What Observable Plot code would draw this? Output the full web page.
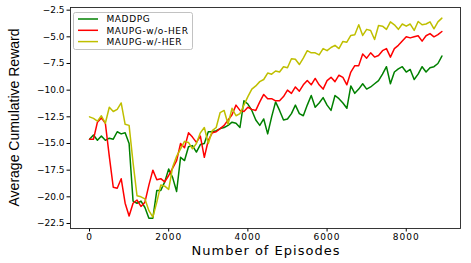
<!DOCTYPE html>
<html>
<head>
<meta charset="utf-8">
<script src="https://cdn.jsdelivr.net/npm/d3@7"></script>
<script src="https://cdn.jsdelivr.net/npm/@observablehq/plot@0.6"></script>
<style>
  html, body { margin: 0; padding: 0; background: white; }
  #chart svg { display: block; }
</style>
</head>
<body>
<div id="chart"></div>
<script>
// Episodes (x values)
const episodes = d3.range(0, 9000, 100);

// Series values
const maddpg = [
  -14.6, -14.2, -14.7, -14.3, -14.7, -14.5, -14.6, -13.9, -14.1, -14.0,
  -15.0, -20.4, -20.6, -20.4, -21.0, -22.0, -22.0, -19.4, -19.4, -18.6,
  -17.4, -18.2, -19.5, -16.3, -16.6, -15.3, -15.2, -15.8, -15.1, -15.0,
  -13.9, -13.9, -13.8, -13.6, -13.5, -13.3, -13.0, -13.1, -13.5, -11.0,
  -11.3, -11.9, -12.8, -13.3, -12.7, -14.1, -12.5, -11.1, -11.9, -12.8,
  -12.7, -12.2, -11.4, -12.2, -12.4, -11.4, -10.5, -11.6, -11.2, -10.7,
  -11.4, -11.9, -10.5, -10.8, -11.2, -11.7, -9.6, -10.3, -9.9, -9.4,
  -9.9, -9.7, -9.4, -9.1, -8.5, -7.8, -9.4, -8.3, -8.0, -7.8,
  -8.3, -8.06, -9.0, -8.5, -7.8, -8.3, -7.9, -7.8, -7.5, -6.8
];
const maupgNoHer = [
  -14.6, -14.6, -13.0, -12.6, -13.1, -16.2, -19.1, -19.2, -18.3, -20.6,
  -21.8, -20.6, -20.3, -20.9, -20.5, -18.9, -17.5, -18.4, -18.3, -18.6,
  -18.0, -17.3, -16.6, -15.0, -15.4, -14.0, -14.4, -14.9, -14.3, -16.3,
  -14.7, -14.0, -13.9, -13.6, -13.3, -12.8, -12.3, -11.4, -11.9, -12.0,
  -11.6, -11.8, -11.9, -11.1, -10.4, -10.8, -10.8, -11.0, -11.0, -10.6,
  -10.0, -10.3, -9.7, -10.1, -9.5, -9.1, -9.5, -8.9, -9.5, -9.9,
  -9.1, -8.8, -9.2, -8.6, -8.8, -9.5, -8.3, -7.7, -7.7, -6.6,
  -7.0, -6.5, -6.9, -6.75, -6.3, -6.1, -6.9, -6.1, -5.8, -5.4,
  -5.0, -5.1, -5.0, -4.9, -5.4, -4.9, -4.7, -5.0, -4.8, -4.5
];
const maupgHer = [
  -12.5, -12.65, -12.9, -12.4, -13.1, -11.6, -12.0, -11.8, -11.2, -13.2,
  -13.3, -16.8, -19.9, -20.0, -20.2, -21.3, -21.9, -20.5, -18.9, -19.0,
  -19.3, -17.2, -16.2, -15.5, -14.8, -14.9, -15.5, -15.0, -14.0, -13.5,
  -15.0, -13.8, -13.5, -12.1, -11.9, -13.2, -11.7, -12.4, -12.2, -11.4,
  -10.6, -9.9, -9.6, -9.2, -9.0, -8.4, -8.5, -8.2, -8.3, -7.8,
  -7.9, -7.05, -7.1, -7.6, -7.0, -6.3, -6.5, -6.5, -6.7, -6.1,
  -6.3, -6.0, -5.8, -6.1, -5.43, -5.5, -4.87, -4.8, -3.87, -4.87,
  -4.3, -4.4, -5.25, -3.94, -4.0, -4.3, -3.6, -3.87, -4.3, -3.8,
  -4.0, -3.8, -4.4, -3.56, -3.87, -3.8, -3.6, -4.25, -3.6, -3.25
];

const seriesNames = ["MADDPG", "MAUPG-w/o-HER", "MAUPG-w/-HER"];
const seriesColors = ["#008000", "#ff0000", "#bfbf00"];
const seriesValues = [maddpg, maupgNoHer, maupgHer];

const xTicks = [0, 2000, 4000, 6000, 8000];
const yTicks = [-22.5, -20.0, -17.5, -15.0, -12.5, -10.0, -7.5, -5.0, -2.5];
const xLabel = "Number of Episodes";
const yLabel = "Average Cumulative Reward";

const rows = [];
seriesNames.forEach((name, si) => {
  episodes.forEach((ep, i) => rows.push({series: name, episode: ep, reward: seriesValues[si][i]}));
});

const W = 471, H = 263;
const mL = 70, mR = 11, mT = 7, mB = 35;

const chart = Plot.plot({
  width: W,
  height: H,
  marginLeft: mL,
  marginRight: mR,
  marginTop: mT,
  marginBottom: mB,
  style: {fontFamily: "DejaVu Sans", fontSize: "9px", background: "white", color: "black"},
  x: {domain: [-480, 9370]},
  y: {domain: [-22.97, -2.25]},
  color: {domain: seriesNames, range: seriesColors},
  marks: [
    Plot.axisX({ticks: xTicks, tickSize: 3.5, tickPadding: 2, tickFormat: d => String(d), label: null, fontSize: 9, stroke: "black"}),
    Plot.axisY({ticks: yTicks, tickSize: 3.5, tickPadding: 2.5, tickFormat: d => d.toFixed(1).replace("-", "\u2212"), label: null, fontSize: 9, stroke: "black"}),
    Plot.line(rows, {x: "episode", y: "reward", z: "series", stroke: "series", strokeWidth: 1.5, strokeLinejoin: "round"}),
    Plot.frame({stroke: "#222", strokeWidth: 0.9})
  ]
});

const svg = d3.select(chart);
// widen x tick labels slightly
svg.selectAll("g[aria-label='x-axis tick label'] text").attr("letter-spacing", "1px");

// axis titles
svg.append("text")
  .attr("x", (mL + W - mR) / 2 + 1)
  .attr("y", 255)
  .attr("text-anchor", "middle")
  .attr("font-family", "DejaVu Sans")
  .attr("font-size", 13)
  .attr("letter-spacing", "1px")
  .attr("fill", "black")
  .text(xLabel);

svg.append("text")
  .attr("transform", `translate(19,${(mT + H - mB) / 2}) rotate(-90)`)
  .attr("text-anchor", "middle")
  .attr("font-family", "Liberation Sans")
  .attr("font-size", 14)
  .attr("fill", "black")
  .text(yLabel);

// legend
const lg = svg.append("g");
lg.append("rect")
  .attr("x", 73.5).attr("y", 12.5).attr("width", 119).attr("height", 37)
  .attr("rx", 2).attr("fill", "white").attr("fill-opacity", 0.85)
  .attr("stroke", "#bbbbbb").attr("stroke-width", 0.9);
seriesNames.forEach((name, i) => {
  const yy = 19 + i * 11.3;
  lg.append("line").attr("x1", 78).attr("x2", 98).attr("y1", yy).attr("y2", yy)
    .attr("stroke", seriesColors[i]).attr("stroke-width", 1.5);
  lg.append("text").attr("x", 106.5).attr("y", yy + 3.2)
    .attr("text-anchor", "start")
    .attr("font-family", "DejaVu Sans").attr("font-size", 9)
    .attr("letter-spacing", "0.6px").attr("fill", "black").text(name);
});

document.getElementById("chart").appendChild(chart);
</script>
</body>
</html>
